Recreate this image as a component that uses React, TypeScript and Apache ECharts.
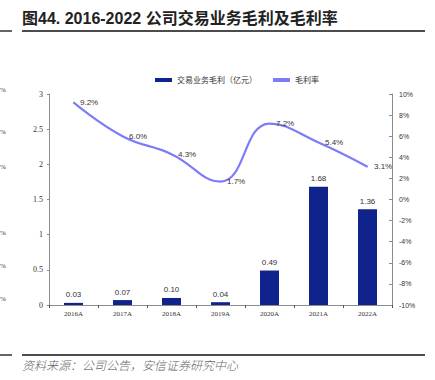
import React, { useEffect, useRef } from "react";
import * as echarts from "echarts";

const categories = ["2016A", "2017A", "2018A", "2019A", "2020A", "2021A", "2022A"];
const grossProfit = [0.03, 0.07, 0.1, 0.04, 0.49, 1.68, 1.36];
const grossMargin = [9.2, 6.0, 4.3, 1.7, 7.2, 5.4, 3.1];
const barName = "交易业务毛利（亿元）";
const lineName = "毛利率";
const titleText = "图44. 2016-2022 公司交易业务毛利及毛利率";
const sourceText = "资料来源：公司公告，安信证券研究中心";
const edgeLabelYs = [90, 132, 167, 233, 266, 299];

export default function App() {
  const ref = useRef<HTMLDivElement>(null);
  useEffect(() => {
    if (!ref.current) return;
    const chart = echarts.init(ref.current, null, { renderer: "svg" });
    const sans = "Liberation Sans, Arial, sans-serif";
    const serif = "Liberation Serif, Times New Roman, serif";
    chart.setOption({
      animation: false,
      backgroundColor: "#fff",
      grid: { left: 49, right: 43, top: 94, bottom: 75, containLabel: false },
      legend: {
        left: 150,
        top: 71,
        itemWidth: 17,
        itemHeight: 4,
        itemGap: 16,
        textStyle: { fontSize: 8, color: "#333", fontFamily: "Noto Sans CJK SC, sans-serif" },
        data: [
          { name: barName, icon: "rect" },
          { name: lineName, icon: "rect" },
        ],
      },
      xAxis: {
        type: "category",
        data: categories,
        axisLine: { lineStyle: { color: "#8c8c8c", width: 1 } },
        axisTick: { show: true, length: 3, lineStyle: { color: "#555" } },
        axisLabel: { fontSize: 7, fontFamily: serif, color: "#333", margin: 5 },
      },
      yAxis: [
        {
          type: "value",
          min: 0,
          max: 3,
          interval: 0.5,
          splitLine: { show: false },
          axisLine: { show: true, lineStyle: { color: "#8c8c8c" } },
          axisTick: { show: true, length: 2, lineStyle: { color: "#8c8c8c" } },
          axisLabel: { fontSize: 8, fontFamily: serif, color: "#333", margin: 6 },
        },
        {
          type: "value",
          min: -10,
          max: 10,
          interval: 2,
          splitLine: { show: false },
          axisLine: { show: true, lineStyle: { color: "#8c8c8c" } },
          axisTick: { show: true, inside: true, length: 3, lineStyle: { color: "#8c8c8c" } },
          axisLabel: { fontSize: 7, fontFamily: sans, color: "#333", margin: 7, formatter: "{value}%" },
        },
      ],
      series: [
        {
          name: barName,
          type: "bar",
          data: grossProfit,
          barWidth: 19,
          itemStyle: { color: "#10228c" },
          label: {
            show: true,
            position: "top",
            distance: 4,
            fontSize: 8,
            fontFamily: sans,
            color: "#333",
            formatter: (p: any) => p.value.toFixed(2),
          },
        },
        {
          name: lineName,
          type: "line",
          yAxisIndex: 1,
          data: grossMargin,
          smooth: 0.45,
          symbol: "circle",
          symbolSize: 1,
          showSymbol: true,
          lineStyle: { color: "#7c7cf8", width: 2.2 },
          itemStyle: { color: "#7c7cf8" },
          label: {
            show: true,
            position: "right",
            distance: 6,
            fontSize: 8,
            fontFamily: sans,
            color: "#333",
            formatter: (p: any) => p.value.toFixed(1) + "%",
          },
        },
      ],
      graphic: [
        {
          type: "text",
          left: 22,
          top: 10,
          style: {
            text: titleText,
            fontSize: 16,
            fontWeight: "bold",
            fontFamily: "Liberation Sans, Noto Sans CJK SC, sans-serif",
            fill: "#222",
          },
        },
        { type: "line", shape: { x1: 0, y1: 31, x2: 12, y2: 31 }, style: { stroke: "#111", lineWidth: 1.3 } },
        { type: "line", shape: { x1: 22, y1: 31, x2: 425, y2: 31 }, style: { stroke: "#111", lineWidth: 1.3 } },
        { type: "line", shape: { x1: 0, y1: 355, x2: 12, y2: 355 }, style: { stroke: "#111", lineWidth: 1.3 } },
        { type: "line", shape: { x1: 22, y1: 355, x2: 425, y2: 355 }, style: { stroke: "#111", lineWidth: 1.3 } },
        {
          type: "text",
          left: 22,
          top: 358,
          style: {
            text: sourceText,
            fontSize: 12,
            fontStyle: "italic",
            fontFamily: "Noto Sans CJK SC, sans-serif",
            fontWeight: 300,
            fill: "#666",
          },
        },
        ...edgeLabelYs.map((y) => ({
          type: "text",
          x: 0,
          y: y,
          style: {
            text: "%",
            fontSize: 7,
            fontFamily: serif,
            fill: "#333",
            verticalAlign: "middle",
          },
        })),
      ],
    });
    return () => chart.dispose();
  }, []);
  return (
    <div
      ref={ref}
      style={{ position: "fixed", left: 0, top: 0, width: 435, height: 380 }}
    />
  );
}
